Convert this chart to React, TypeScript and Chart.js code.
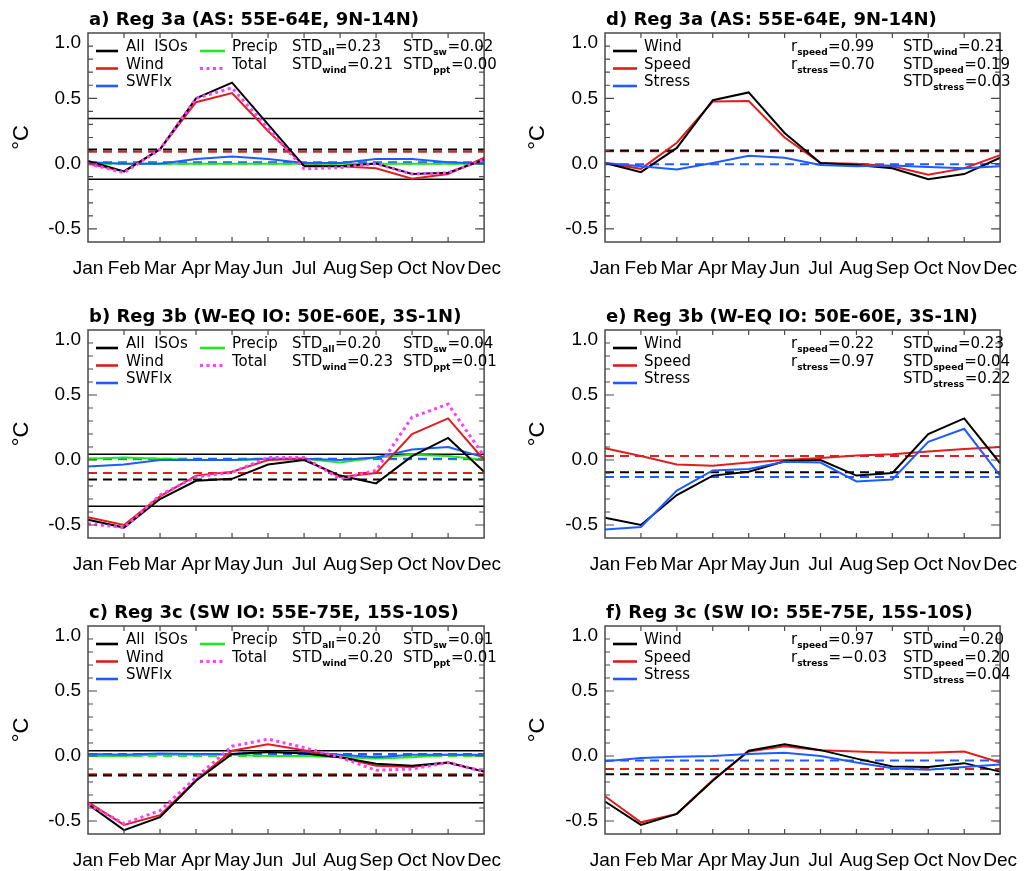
import React, { useEffect, useRef } from 'react';
import { Chart, registerables } from 'chart.js';

Chart.register(...registerables);

// ---------- shared axes ----------
const months = ['Jan', 'Feb', 'Mar', 'Apr', 'May', 'Jun', 'Jul', 'Aug', 'Sep', 'Oct', 'Nov', 'Dec'];
const yLabelTicks = [-0.5, 0.0, 0.5, 1.0];
const yMinorTicks = [-0.5, -0.4, -0.3, -0.2, -0.1, 0.0, 0.1, 0.2, 0.3, 0.4, 0.5, 0.6, 0.7, 0.8, 0.9];
const yMajorTicks = [-0.5, 0.0, 0.5];
const yMin = -0.6;
const yMax = 1.0;

// ---------- panel a ----------
const aAll = [0.02, -0.06, 0.11, 0.5, 0.62, 0.3, -0.02, -0.02, 0.0, -0.08, -0.07, 0.03];
const aWind = [0.0, -0.06, 0.11, 0.47, 0.54, 0.25, -0.015, -0.02, -0.035, -0.115, -0.08, 0.045];
const aSW = [0.01, 0.0, 0.0, 0.035, 0.055, 0.035, 0.005, 0.005, 0.035, 0.035, 0.01, 0.0];
const aPpt = [0.005, 0.0, 0.0, 0.0, 0.0, 0.0, 0.0, 0.0, 0.0, 0.0, 0.0, 0.0];
const aTot = [0.0, -0.07, 0.11, 0.5, 0.58, 0.27, -0.04, -0.03, 0.0, -0.08, -0.07, 0.03];
const aBand = [0.345, -0.12];
const aMeans = [0.108, 0.09, 0.01, 0.0];
const aStd = ['0.23', '0.21', '0.02', '0.00'];

// ---------- panel b ----------
const bAll = [-0.46, -0.52, -0.3, -0.16, -0.145, -0.035, 0.0, -0.12, -0.18, 0.03, 0.17, -0.09];
const bWind = [-0.44, -0.5, -0.28, -0.12, -0.09, 0.0, 0.01, -0.13, -0.1, 0.2, 0.32, 0.0];
const bSW = [-0.05, -0.035, 0.0, 0.0, 0.0, 0.01, 0.01, 0.0, 0.02, 0.08, 0.1, 0.02];
const bPpt = [0.01, 0.02, 0.01, 0.0, 0.0, 0.01, 0.01, -0.02, 0.02, 0.04, 0.03, 0.0];
const bTot = [-0.49, -0.52, -0.27, -0.13, -0.095, 0.02, 0.02, -0.145, -0.08, 0.33, 0.43, 0.03];
const bBand = [0.045, -0.355];
const bMeans = [-0.15, -0.1, 0.01, 0.005];
const bStd = ['0.20', '0.23', '0.04', '0.01'];

// ---------- panel c ----------
const cAll = [-0.37, -0.57, -0.47, -0.19, 0.015, 0.03, 0.02, -0.01, -0.06, -0.075, -0.05, -0.12];
const cWind = [-0.355, -0.53, -0.455, -0.185, 0.04, 0.09, 0.045, -0.01, -0.075, -0.085, -0.05, -0.12];
const cSW = [0.015, 0.01, 0.02, 0.015, 0.015, 0.03, 0.03, 0.01, -0.01, 0.01, 0.01, 0.01];
const cPpt = [0.0, 0.0, 0.01, 0.01, 0.01, 0.0, 0.0, -0.01, -0.02, -0.01, 0.01, 0.0];
const cTot = [-0.37, -0.52, -0.42, -0.165, 0.075, 0.13, 0.065, -0.01, -0.11, -0.1, -0.05, -0.12];
const cBand = [0.04, -0.36];
const cMeans = [-0.15, -0.14, 0.015, 0.0];
const cStd = ['0.20', '0.20', '0.01', '0.01'];

// ---------- panel d ----------
const dWind = [0.005, -0.065, 0.12, 0.485, 0.545, 0.235, 0.005, -0.01, -0.035, -0.12, -0.08, 0.045];
const dSpeed = [0.005, -0.04, 0.16, 0.475, 0.48, 0.2, 0.005, 0.0, -0.02, -0.085, -0.035, 0.065];
const dStress = [0.005, -0.02, -0.045, 0.005, 0.06, 0.045, -0.01, -0.02, -0.015, -0.025, -0.035, -0.02];
const dMeans = [0.1, 0.095, -0.005];
const dR = ['0.99', '0.70'];
const dStd = ['0.21', '0.19', '0.03'];

// ---------- panel e ----------
const eWind = [-0.445, -0.5, -0.27, -0.12, -0.09, -0.01, 0.0, -0.12, -0.1, 0.2, 0.32, -0.025];
const eSpeed = [0.09, 0.03, -0.035, -0.045, -0.02, 0.0, 0.015, 0.035, 0.045, 0.065, 0.085, 0.1];
const eStress = [-0.535, -0.515, -0.235, -0.08, -0.07, -0.013, -0.02, -0.165, -0.15, 0.14, 0.24, -0.12];
const eMeans = [-0.095, 0.03, -0.13];
const eR = ['0.22', '0.97'];
const eStd = ['0.23', '0.04', '0.22'];

// ---------- panel f ----------
const fWind = [-0.35, -0.53, -0.445, -0.19, 0.04, 0.09, 0.045, -0.02, -0.08, -0.085, -0.055, -0.12];
const fSpeed = [-0.31, -0.51, -0.445, -0.185, 0.035, 0.075, 0.045, 0.035, 0.025, 0.025, 0.035, -0.05];
const fStress = [-0.04, -0.015, -0.005, 0.0, 0.015, 0.025, 0.0, -0.05, -0.095, -0.105, -0.085, -0.065];
const fMeans = [-0.14, -0.1, -0.035];
const fR = ['0.97', '\u22120.03'];
const fStd = ['0.20', '0.20', '0.04'];

// ---------- styles ----------
const BLACK = '#000000';
const RED = '#dd1f1f';
const BLUE = '#1f5cff';
const GREEN = '#22e622';
const MAGENTA = '#ff3cff';
const FRAME = '#4a4a4a';
const TICK_FONT = '"Liberation Sans", Arial, Helvetica, sans-serif';
const TICK_SIZE = 19;
const TITLE_FONT = 'bold 18px "DejaVu Sans", sans-serif';
const LEG_FONT = '15px "DejaVu Sans", sans-serif';
const SUB_FONT = 'bold 9px "DejaVu Sans", sans-serif';

type PanelCfg = {
  key: string;
  kind: 'iso' | 'wind';
  title: string;
  x: number; y: number; w: number; h: number;
  areaLeft: number; areaRight: number; areaTop: number; areaBottom: number;
  series: number[][];
  band?: number[];
  means: number[];
  std: string[];
  r?: string[];
};

const rows = [
  { y: 0, h: 290, top: 33, bottom: 242 },
  { y: 290, h: 290, top: 40, bottom: 248 },
  { y: 580, h: 291, top: 46, bottom: 254 },
];
const cols = [
  { x: 0, w: 516, left: 88, right: 496 },
  { x: 516, w: 516, left: 89, right: 498 },
];

function mk(key: string, kind: 'iso' | 'wind', title: string, row: number, col: number, rest: any): PanelCfg {
  const r = rows[row];
  const c = cols[col];
  return {
    key, kind, title,
    x: c.x, y: r.y, w: c.w, h: r.h,
    areaLeft: c.left, areaRight: c.right, areaTop: r.top, areaBottom: r.bottom,
    ...rest,
  };
}

const panels: PanelCfg[] = [
  mk('a', 'iso', 'a) Reg 3a (AS: 55E-64E, 9N-14N)', 0, 0, { series: [aAll, aWind, aSW, aPpt, aTot], band: aBand, means: aMeans, std: aStd }),
  mk('b', 'iso', 'b) Reg 3b (W-EQ IO: 50E-60E, 3S-1N)', 1, 0, { series: [bAll, bWind, bSW, bPpt, bTot], band: bBand, means: bMeans, std: bStd }),
  mk('c', 'iso', 'c) Reg 3c (SW IO: 55E-75E, 15S-10S)', 2, 0, { series: [cAll, cWind, cSW, cPpt, cTot], band: cBand, means: cMeans, std: cStd }),
  mk('d', 'wind', 'd) Reg 3a (AS: 55E-64E, 9N-14N)', 0, 1, { series: [dWind, dSpeed, dStress], means: dMeans, std: dStd, r: dR }),
  mk('e', 'wind', 'e) Reg 3b (W-EQ IO: 50E-60E, 3S-1N)', 1, 1, { series: [eWind, eSpeed, eStress], means: eMeans, std: eStd, r: eR }),
  mk('f', 'wind', 'f) Reg 3c (SW IO: 55E-75E, 15S-10S)', 2, 1, { series: [fWind, fSpeed, fStress], means: fMeans, std: fStd, r: fR }),
];

function drawSub(ctx: CanvasRenderingContext2D, x: number, y: number, main: string, sub: string, rest: string) {
  ctx.font = LEG_FONT;
  ctx.fillText(main, x, y);
  x += ctx.measureText(main).width;
  ctx.font = SUB_FONT;
  ctx.fillText(sub, x, y + 4);
  x += ctx.measureText(sub).width + 0.5;
  ctx.font = LEG_FONT;
  ctx.fillText(rest, x, y);
}

function legLine(ctx: CanvasRenderingContext2D, x0: number, x1: number, y: number, color: string, dotted = false) {
  ctx.save();
  ctx.strokeStyle = color;
  ctx.lineWidth = dotted ? 3 : 2.6;
  ctx.setLineDash(dotted ? [3, 3.5] : []);
  ctx.beginPath();
  ctx.moveTo(x0, y);
  ctx.lineTo(x1, y);
  ctx.stroke();
  ctx.restore();
}

function makeDecor(cfg: PanelCfg) {
  return {
    id: 'decor_' + cfg.key,
    beforeDatasetsDraw(chart: any) {
      const { ctx, chartArea: a, scales } = chart;
      const ys = scales.y;
      ctx.save();
      ctx.beginPath();
      ctx.rect(a.left, a.top, a.right - a.left, a.bottom - a.top);
      ctx.clip();
      const hline = (v: number, color: string, dashed: boolean, lw: number) => {
        const py = ys.getPixelForValue(v);
        ctx.strokeStyle = color;
        ctx.lineWidth = lw;
        ctx.setLineDash(dashed ? [9, 6] : []);
        ctx.beginPath();
        ctx.moveTo(a.left, py);
        ctx.lineTo(a.right, py);
        ctx.stroke();
      };
      if (cfg.band) cfg.band.forEach((v) => hline(v, BLACK, false, 1.5));
      const meanColors = cfg.kind === 'iso' ? [BLACK, RED, BLUE, GREEN] : [BLACK, RED, BLUE];
      for (let i = cfg.means.length - 1; i >= 0; i--) hline(cfg.means[i], meanColors[i], true, 2);
      ctx.restore();
    },
    afterDraw(chart: any) {
      const { ctx, chartArea: a, scales } = chart;
      const xs = scales.x;
      const ys = scales.y;
      ctx.save();
      // frame
      ctx.strokeStyle = FRAME;
      ctx.lineWidth = 1.5;
      ctx.setLineDash([]);
      ctx.strokeRect(a.left, a.top, a.right - a.left, a.bottom - a.top);
      // y ticks both sides
      ctx.lineWidth = 1.2;
      yMinorTicks.forEach((v) => {
        const py = ys.getPixelForValue(v);
        const len = yMajorTicks.includes(v) ? 9 : 5;
        ctx.beginPath();
        ctx.moveTo(a.left, py);
        ctx.lineTo(a.left + len, py);
        ctx.moveTo(a.right, py);
        ctx.lineTo(a.right - len, py);
        ctx.stroke();
      });
      // x ticks top and bottom
      for (let i = 1; i < months.length - 1; i++) {
        const px = xs.getPixelForValue(i);
        ctx.beginPath();
        ctx.moveTo(px, a.bottom);
        ctx.lineTo(px, a.bottom - 5);
        ctx.moveTo(px, a.top);
        ctx.lineTo(px, a.top + 5);
        ctx.stroke();
      }
      // "1.0" label (sits lower than its tick in the reference)
      ctx.fillStyle = '#000';
      ctx.font = TICK_SIZE + 'px ' + TICK_FONT;
      ctx.textAlign = 'right';
      ctx.textBaseline = 'middle';
      ctx.fillText((1.0).toFixed(1), a.left - 7, ys.getPixelForValue(1.0) + 10);
      // unit label
      ctx.save();
      ctx.translate(22, (a.top + a.bottom) / 2);
      ctx.rotate(-Math.PI / 2);
      ctx.textAlign = 'center';
      ctx.textBaseline = 'middle';
      ctx.font = '22px ' + TICK_FONT;
      ctx.fillText('\u00B0C', 0, 0);
      ctx.restore();
      // title
      ctx.textAlign = 'left';
      ctx.textBaseline = 'alphabetic';
      ctx.font = TITLE_FONT;
      ctx.fillText(cfg.title, a.left + 1, a.top - 8);
      // legend
      const base = (i: number) => a.top + 18 + i * 17.5;
      const L = a.left;
      ctx.font = LEG_FONT;
      if (cfg.kind === 'iso') {
        const names1 = ['All  ISOs', 'Wind', 'SWFlx'];
        const cols1 = [BLACK, RED, BLUE];
        names1.forEach((n, i) => {
          legLine(ctx, L + 8, L + 30, base(i), cols1[i]);
          ctx.font = LEG_FONT;
          ctx.fillText(n, L + 38, base(i));
        });
        legLine(ctx, L + 112, L + 137, base(0), GREEN);
        ctx.font = LEG_FONT;
        ctx.fillText('Precip', L + 144, base(0));
        legLine(ctx, L + 112, L + 137, base(1), MAGENTA, true);
        ctx.font = LEG_FONT;
        ctx.fillText('Total', L + 144, base(1));
        drawSub(ctx, L + 204, base(0), 'STD', 'all', '=' + cfg.std[0]);
        drawSub(ctx, L + 204, base(1), 'STD', 'wind', '=' + cfg.std[1]);
        drawSub(ctx, L + 315, base(0), 'STD', 'sw', '=' + cfg.std[2]);
        drawSub(ctx, L + 315, base(1), 'STD', 'ppt', '=' + cfg.std[3]);
      } else {
        const names1 = ['Wind', 'Speed', 'Stress'];
        const cols1 = [BLACK, RED, BLUE];
        names1.forEach((n, i) => {
          legLine(ctx, L + 8, L + 32, base(i), cols1[i]);
          ctx.font = LEG_FONT;
          ctx.fillText(n, L + 39, base(i));
        });
        const rs = cfg.r || [];
        drawSub(ctx, L + 186, base(0), 'r', 'speed', '=' + rs[0]);
        drawSub(ctx, L + 186, base(1), 'r', 'stress', '=' + rs[1]);
        drawSub(ctx, L + 298, base(0), 'STD', 'wind', '=' + cfg.std[0]);
        drawSub(ctx, L + 298, base(1), 'STD', 'speed', '=' + cfg.std[1]);
        drawSub(ctx, L + 298, base(2), 'STD', 'stress', '=' + cfg.std[2]);
      }
      ctx.restore();
    },
  };
}

function buildDatasets(cfg: PanelCfg) {
  const line = (data: number[], color: string, extra: any = {}) => ({
    data,
    borderColor: color,
    backgroundColor: color,
    borderWidth: 2,
    pointRadius: 0,
    tension: 0,
    fill: false,
    ...extra,
  });
  if (cfg.kind === 'iso') {
    const [all, wind, sw, ppt, tot] = cfg.series;
    return [
      line(tot, MAGENTA, { borderDash: [3, 3.5], borderWidth: 3, borderCapStyle: 'butt' }),
      line(all, BLACK),
      line(wind, RED),
      line(sw, BLUE),
      line(ppt, GREEN),
    ];
  }
  const [wind, speed, stress] = cfg.series;
  return [line(stress, BLUE), line(wind, BLACK), line(speed, RED)];
}

function Panel({ cfg }: { cfg: PanelCfg }) {
  const ref = useRef<HTMLCanvasElement>(null);
  useEffect(() => {
    if (!ref.current) return;
    const chart = new Chart(ref.current, {
      type: 'line',
      data: { labels: months, datasets: buildDatasets(cfg) as any },
      options: {
        animation: false,
        responsive: false,
        maintainAspectRatio: false,
        devicePixelRatio: 1,
        layout: { padding: { left: 0, right: cfg.w - cfg.areaRight, top: cfg.areaTop, bottom: 0 } },
        plugins: { legend: { display: false }, tooltip: { enabled: false }, title: { display: false } },
        scales: {
          x: {
            type: 'category',
            offset: false,
            grid: { display: false, drawTicks: false },
            border: { display: false },
            ticks: {
              autoSkip: false,
              maxRotation: 0,
              minRotation: 0,
              padding: 15,
              color: '#000',
              font: { family: TICK_FONT, size: TICK_SIZE },
            },
            afterFit: (s: any) => {
              s.height = cfg.h - cfg.areaBottom;
            },
          },
          y: {
            type: 'linear',
            min: yMin,
            max: yMax,
            afterBuildTicks: (s: any) => {
              s.ticks = yLabelTicks.map((v) => ({ value: v }));
            },
            grid: { display: false, drawTicks: false },
            border: { display: false },
            ticks: {
              padding: 7,
              color: '#000',
              font: { family: TICK_FONT, size: TICK_SIZE },
              callback: (v: any) => (Number(v) >= 0.99 ? '' : Number(v).toFixed(1)),
            },
            afterFit: (s: any) => {
              s.width = cfg.areaLeft;
            },
          },
        },
      },
      plugins: [makeDecor(cfg) as any],
    });
    return () => chart.destroy();
  }, [cfg]);
  return (
    <canvas
      ref={ref}
      width={cfg.w}
      height={cfg.h}
      style={{ position: 'absolute', left: cfg.x, top: cfg.y, width: cfg.w, height: cfg.h }}
    />
  );
}

export default function App() {
  return (
    <div style={{ position: 'absolute', left: 0, top: 0, width: 1032, height: 871, background: '#fff', overflow: 'hidden' }}>
      {panels.map((p) => (
        <Panel key={p.key} cfg={p} />
      ))}
    </div>
  );
}
